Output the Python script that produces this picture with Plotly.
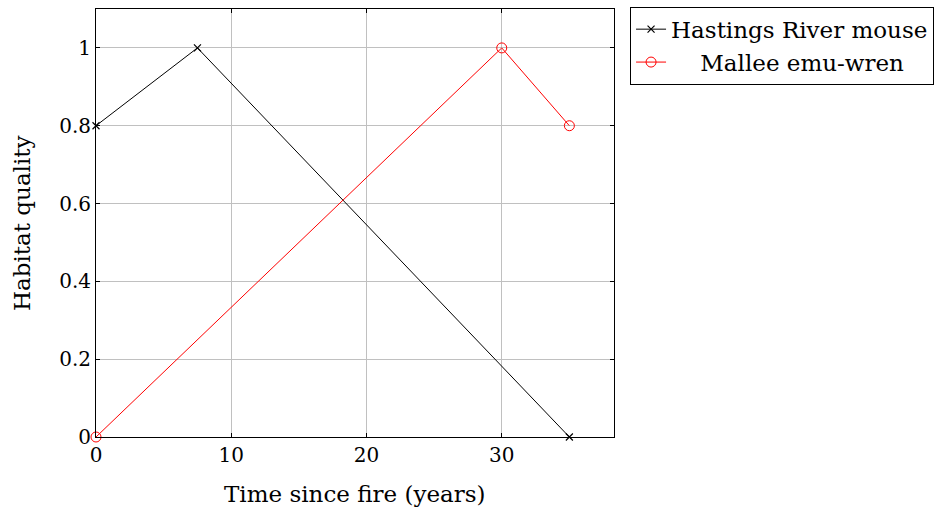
import plotly.graph_objects as go

hastings_x = [0, 7.5, 35]
hastings_y = [0.8, 1.0, 0.0]
mallee_x = [0, 30, 35]
mallee_y = [0.0, 1.0, 0.8]
x_ticks = [0, 10, 20, 30]
y_ticks = [0, 0.2, 0.4, 0.6, 0.8, 1.0]
y_tick_text = ["0", "0.2", "0.4", "0.6", "0.8", "1"]
x_title = "Time since fire (years)"
y_title = "Habitat quality"

FONT = "DejaVu Serif"
FS = 20
TFS = 23

fig = go.Figure()
fig.add_trace(go.Scatter(
    x=hastings_x, y=hastings_y, mode="lines+markers", name="Hastings River mouse",
    line=dict(color="black", width=1),
    marker=dict(symbol="x-thin-open", size=7, color="black", line=dict(width=1.2, color="black")),
    cliponaxis=False,
))
fig.add_trace(go.Scatter(
    x=mallee_x, y=mallee_y, mode="lines+markers", name="    Mallee emu-wren",
    line=dict(color="red", width=1),
    marker=dict(symbol="circle-open", size=10, color="red", line=dict(width=1, color="red")),
    cliponaxis=False,
))

axis_common = dict(
    showline=True, linecolor="black", linewidth=1, mirror="ticks",
    showgrid=True, gridcolor="#c0c0c0", gridwidth=1,
    ticks="inside", ticklen=4, tickcolor="black", zeroline=False,
    tickfont=dict(family=FONT, size=FS, color="black"), automargin=False,
)

fig.update_layout(
    width=950, height=512,
    margin=dict(l=96, r=336, t=8, b=75),
    paper_bgcolor="white", plot_bgcolor="white",
    font=dict(family=FONT, size=FS, color="black"),
    xaxis=dict(range=[0, 38.3], tickvals=x_ticks, ticktext=[str(v) for v in x_ticks], **axis_common),
    yaxis=dict(range=[0, 1.1], tickvals=y_ticks, ticktext=y_tick_text, **axis_common),
    legend=dict(x=1.031, y=1.003, xanchor="left", yanchor="top",
                bordercolor="black", borderwidth=1, bgcolor="white",
                font=dict(family=FONT, size=TFS), tracegroupgap=0, itemwidth=30),
    showlegend=True,
    annotations=[
        dict(text=x_title, xref="paper", yref="paper", x=0.5, y=0, xanchor="center", yanchor="middle",
             yshift=-57, showarrow=False, font=dict(family=FONT, size=TFS, color="black")),
        dict(text=y_title, xref="paper", yref="paper", x=0, y=0.5, xanchor="center", yanchor="middle",
             xshift=-74, textangle=-90, showarrow=False, font=dict(family=FONT, size=TFS, color="black")),
    ],
)

fig.write_html("out.html", config={"displayModeBar": False},
               post_script="document.body.style.margin='0';document.body.style.overflow='hidden';")
